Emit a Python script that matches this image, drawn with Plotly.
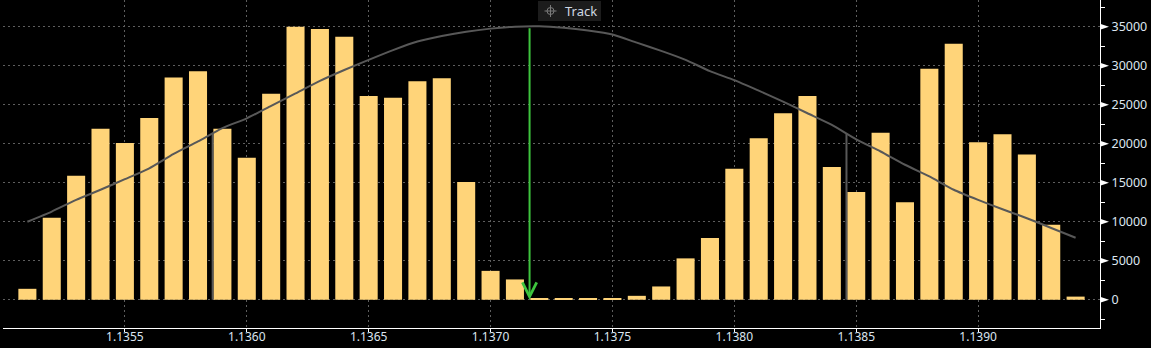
import plotly.graph_objects as go

# ---------------- data ----------------
prices = [1.1351, 1.1352, 1.1353, 1.1354, 1.1355, 1.1356, 1.1357, 1.1358, 1.1359, 1.1360,
          1.1361, 1.1362, 1.1363, 1.1364, 1.1365, 1.1366, 1.1367, 1.1368, 1.1369, 1.1370,
          1.1371, 1.1372, 1.1373, 1.1374, 1.1375, 1.1376, 1.1377, 1.1378, 1.1379, 1.1380,
          1.1381, 1.1382, 1.1383, 1.1384, 1.1385, 1.1386, 1.1387, 1.1388, 1.1389, 1.1390,
          1.1391, 1.1392, 1.1393, 1.1394]
volumes = [1400, 10500, 15900, 21900, 20100, 23300, 28500, 29300, 21900, 18200,
           26400, 35000, 34700, 33700, 26100, 25900, 28000, 28400, 15100, 3700,
           2600, 150, 150, 150, 150, 500, 1700, 5300, 7900, 16800,
           20700, 23900, 26100, 17000, 13800, 21400, 12500, 29600, 32800, 20200,
           21200, 18600, 9600, 400]
curve = [10000, 11300, 12800, 14100, 15450, 16850, 18700, 20300, 22000, 23250,
         24850, 26450, 28050, 29450, 30750, 32000, 33100, 33800, 34350, 34750,
         35000, 35050, 34850, 34500, 34000, 32950, 31900, 30750, 29300, 28150,
         26800, 25400, 23900, 22400, 20550, 19000, 17300, 15800, 14100, 12800,
         11600, 10450, 9200, 7950]
sigma_x = [1.13586, 1.13846]
sigma_top = [21400, 21300]
track_x = 1.13716
track_top = 35000
x_ticks = [1.1355, 1.1360, 1.1365, 1.1370, 1.1375, 1.1380, 1.1385, 1.1390]
x_tick_labels = ["1.1355", "1.1360", "1.1365", "1.1370", "1.1375", "1.1380", "1.1385", "1.1390"]
y_ticks = [0, 5000, 10000, 15000, 20000, 25000, 30000, 35000]
y_tick_labels = ["0", "5000", "10000", "15000", "20000", "25000", "30000", "35000"]

# ---------------- style ----------------
BAR = "#FFD479"
CURVE = "#585858"
GREEN = "#3ec43e"
GRID = "#5e5e5e"
TXT = "#dde6f0"
FONT = "Noto Sans"

W, H = 1151, 348
ML, MR, MT, MB = 3, 51, 0, 20
PW, PH = W - ML - MR, H - MT - MB

def px_x(p):
    return (p - ML) / PW

def px_y(p):
    return 1 - (p - MT) / PH

fig = go.Figure()

fig.add_trace(go.Bar(x=prices, y=volumes, marker=dict(color=BAR, line=dict(width=0)),
                     hoverinfo="x+y", showlegend=False))

fig.add_trace(go.Scatter(x=prices, y=curve, mode="lines",
                         line=dict(color=CURVE, width=2, shape="spline", smoothing=0.6),
                         showlegend=False))

for sx, st in zip(sigma_x, sigma_top):
    fig.add_trace(go.Scatter(x=[sx, sx], y=[0, st], mode="lines",
                             line=dict(color=CURVE, width=2), showlegend=False))

# green track arrow
fig.add_annotation(x=track_x, y=0, ax=track_x, ay=track_top, xref="x", yref="y",
                   axref="x", ayref="y", text="", showarrow=True, arrowhead=5,
                   arrowsize=1.4, arrowwidth=2, arrowcolor=GREEN, standoff=0)

shapes = []
# y-axis triangle ticks
for v in y_ticks:
    shapes.append(dict(type="path", xref="paper", yref="y", xsizemode="pixel",
                       ysizemode="pixel", xanchor=1, yanchor=v,
                       path="M0,-3 L9,0 L0,3 Z", fillcolor="white",
                       line=dict(width=0), layer="above"))

# Track button
shapes.append(dict(type="rect", xref="paper", yref="paper",
                   x0=px_x(538), x1=px_x(601), y0=px_y(21), y1=px_y(1),
                   fillcolor="#1c1c1c", line=dict(width=0), layer="above"))
cx, cy = px_x(550.5), px_y(11)
shapes.append(dict(type="circle", xref="paper", yref="paper", xsizemode="pixel",
                   ysizemode="pixel", xanchor=cx, yanchor=cy,
                   x0=-3.5, x1=3.5, y0=-3.5, y1=3.5,
                   line=dict(color="#7a7a7a", width=1), layer="above"))
shapes.append(dict(type="path", xref="paper", yref="paper", xsizemode="pixel",
                   ysizemode="pixel", xanchor=cx, yanchor=cy,
                   path="M-6,0 L6,0 M0,-6 L0,6",
                   line=dict(color="#7a7a7a", width=1), layer="above"))

fig.add_annotation(x=px_x(581), y=px_y(11), xref="paper", yref="paper",
                   text="Track", showarrow=False,
                   font=dict(family=FONT, size=13, color="#cfd8e2"),
                   xanchor="center", yanchor="middle")

fig.update_layout(
    width=W, height=H,
    margin=dict(l=ML, r=MR, t=MT, b=MB, pad=0, autoexpand=False),
    paper_bgcolor="black", plot_bgcolor="black",
    bargap=0.26,
    shapes=shapes,
    showlegend=False,
    font=dict(family=FONT, size=12.5, color=TXT),
    xaxis=dict(range=[1.1350, 1.1395], tickvals=x_ticks, ticktext=x_tick_labels,
               automargin=False,
               showgrid=True, gridcolor=GRID, griddash="2px,3px", gridwidth=1,
               showline=True, linecolor="white", linewidth=1,
               ticks="outside", ticklen=3, tickcolor="white",
               ticklabelstandoff=-5,
               zeroline=False, tickfont=dict(family=FONT, size=12, color=TXT)),
    yaxis=dict(side="right", range=[-3624, 38419], tickvals=y_ticks,
               ticktext=y_tick_labels, automargin=False,
               showgrid=True, gridcolor=GRID, griddash="2px,3px", gridwidth=1,
               showline=True, linecolor="white", linewidth=1,
               ticks="outside", ticklen=8, tickcolor="rgba(0,0,0,0)",
               minor=dict(ticks="outside", ticklen=4, tickcolor="white",
                          dtick=2500, tick0=0, showgrid=False),
               zeroline=False, tickfont=dict(family=FONT, size=12.5, color=TXT)),
)

fig.write_html("out.html")
